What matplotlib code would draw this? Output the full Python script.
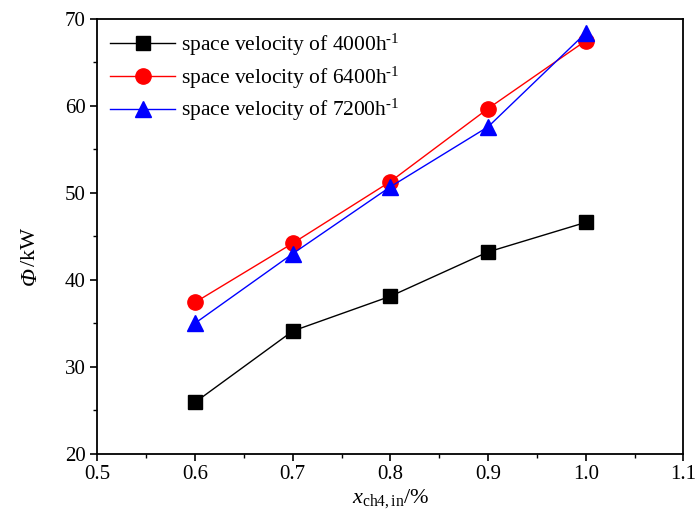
import matplotlib
matplotlib.use("Agg")
import matplotlib.pyplot as plt
from matplotlib.ticker import MultipleLocator

x = [0.6, 0.7, 0.8, 0.9, 1.0]
sv4000 = [25.9, 34.1, 38.1, 43.2, 46.6]
sv6400 = [37.4, 44.2, 51.3, 59.7, 67.5]
sv7200 = [35.0, 43.0, 50.7, 57.6, 68.4]
labels = ["space velocity of 4000h$^{\\mathrm{\u2010}1}$",
          "space velocity of 6400h$^{\\mathrm{\u2010}1}$",
          "space velocity of 7200h$^{\\mathrm{\u2010}1}$"]

plt.rcParams['font.family'] = ['Liberation Serif', 'DejaVu Serif']
plt.rcParams['mathtext.fontset'] = 'custom'
plt.rcParams['mathtext.rm'] = 'Liberation Serif'
plt.rcParams['mathtext.it'] = 'Liberation Serif:italic'

fig = plt.figure(figsize=(6.96, 5.28), dpi=100)
ax = fig.add_axes([0.140, 0.141, 0.842, 0.823])

ax.plot(x, sv4000, color='black', marker='s', markersize=10, lw=1, label=labels[0])
ax.plot(x, sv6400, color='red', marker='o', markersize=11, lw=1, label=labels[1])
ax.plot(x, sv7200, color='blue', marker='^', markersize=11, lw=1, label=labels[2])

ax.set_xlim(0.5, 1.1)
ax.set_ylim(20, 70)
ax.xaxis.set_major_locator(MultipleLocator(0.1))
ax.xaxis.set_minor_locator(MultipleLocator(0.05))
ax.yaxis.set_major_locator(MultipleLocator(10))
ax.yaxis.set_minor_locator(MultipleLocator(5))
ax.tick_params(which='both', direction='out', top=False, right=False, labelsize=15)
ax.tick_params(which='major', length=5, width=1.2)
ax.tick_params(which='minor', length=3, width=1)
for s in ax.spines.values():
    s.set_linewidth(1.3)

ax.set_xlabel(r'$x_{\mathrm{ch4,in}}$/%', fontsize=16, labelpad=2)

# y label: italic Phi followed by upright unit
ax.text(-0.115, 0.43, '\u03a6', style='italic', fontsize=17, rotation=90,
        ha='center', va='top', transform=ax.transAxes)
ax.text(-0.115, 0.432, '/kW', fontsize=16, rotation=90,
        ha='center', va='bottom', transform=ax.transAxes)

ax.legend(loc='upper left', frameon=False, fontsize=15.5, handlelength=3,
          borderaxespad=0.1, borderpad=0.5, labelspacing=0.3, handletextpad=0.3)

fig.savefig("out.png", dpi=100)
